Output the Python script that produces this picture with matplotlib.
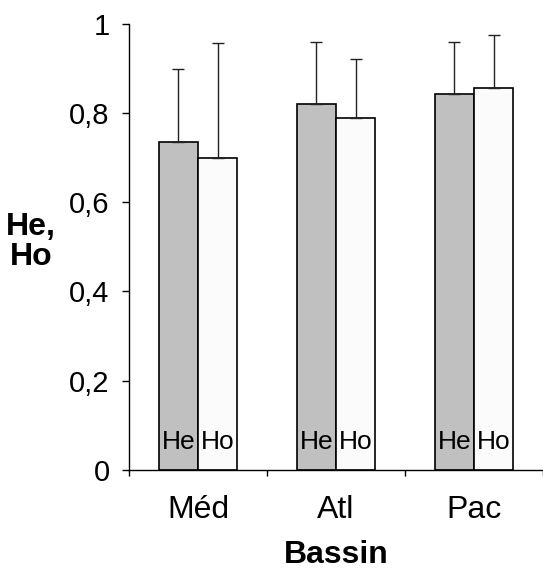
import numpy as np
import matplotlib.pyplot as plt

plt.rcParams['font.family'] = ['Liberation Sans', 'DejaVu Sans']

# données
bassins = ['Méd', 'Atl', 'Pac']
he = [0.734, 0.821, 0.843]
ho = [0.699, 0.789, 0.857]
he_err = [0.165, 0.137, 0.115]
ho_err = [0.257, 0.131, 0.118]
yticks = [0, 0.2, 0.4, 0.6, 0.8, 1]
ytick_labels = ['0', '0,2', '0,4', '0,6', '0,8', '1']

fig = plt.figure(figsize=(5.43, 5.71), dpi=100)
ax = fig.add_axes([0.2376, 0.1769, 0.7624, 0.7816])

x = np.arange(len(bassins))
w = 0.286
err_kw = dict(ecolor='#222222', elinewidth=1, capsize=4, capthick=1)
ax.bar(x - w / 2, he, w, color='#c0c0c0', edgecolor='black', linewidth=1.2,
       yerr=[np.zeros(3), he_err], error_kw=err_kw, zorder=2)
ax.bar(x + w / 2, ho, w, color='#fbfbfb', edgecolor='black', linewidth=1.2,
       yerr=[np.zeros(3), ho_err], error_kw=err_kw, zorder=2)

# étiquettes He / Ho dans les barres
for xi in x:
    ax.text(xi - w / 2, 0.062, 'He', ha='center', va='center', fontsize=19, zorder=3)
    ax.text(xi + w / 2, 0.062, 'Ho', ha='center', va='center', fontsize=19, zorder=3)

ax.set_xlim(-0.5, 2.5)
ax.set_ylim(0, 1)
ax.set_yticks(yticks)
ax.set_yticklabels(ytick_labels, fontsize=21)
ax.tick_params(axis='y', length=5, width=1, pad=9)

ax.set_xticks(x)
ax.set_xticklabels(bassins, fontsize=23)
ax.set_xticks(np.arange(-0.5, 3, 1), minor=True)
ax.tick_params(axis='x', which='major', length=0, pad=18)
ax.tick_params(axis='x', which='minor', length=4, width=1)

for s in ['top', 'right']:
    ax.spines[s].set_visible(False)
for s in ['left', 'bottom']:
    ax.spines[s].set_linewidth(1)

ax.set_xlabel('Bassin', fontsize=23, fontweight='bold', labelpad=11)
ax.set_ylabel('He,\nHo', fontsize=23, fontweight='bold', rotation=0,
              linespacing=1.0, ha='center', va='center')
ax.yaxis.set_label_coords(-0.237, 0.51)

plt.savefig('out.png', dpi=100)
